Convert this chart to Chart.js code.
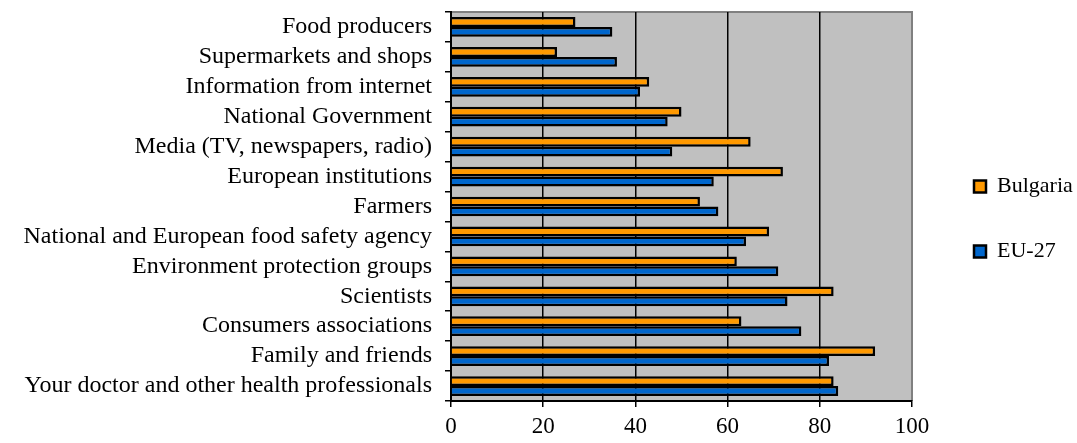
<!DOCTYPE html>
<html>
<head>
<meta charset="utf-8">
<script src="https://cdn.jsdelivr.net/npm/chart.js@4"></script>
<style>
  html, body { margin: 0; padding: 0; background: #fff; }
  #wrap { width: 1077px; height: 443px; }
</style>
</head>
<body>
<div id="wrap"><canvas id="trustChart"></canvas></div>
<script>
// Sources of food-risk information people trust
const categories = [
  'Food producers',
  'Supermarkets and shops',
  'Information from internet',
  'National Government',
  'Media (TV, newspapers, radio)',
  'European institutions',
  'Farmers',
  'National and European food safety agency',
  'Environment protection groups',
  'Scientists',
  'Consumers associations',
  'Family and friends',
  'Your doctor and other health professionals'
];
const bulgaria = [27, 23, 43, 50, 65, 72, 54, 69, 62, 83, 63, 92, 83];
const eu27 = [35, 36, 41, 47, 48, 57, 58, 64, 71, 73, 76, 82, 84];
const xTicks = [0, 20, 40, 60, 80, 100];

const font = 'Liberation Serif, Times New Roman, serif';

// grey plot area with a grey frame, legend nudged to the right
const plotArea = {
  id: 'plotArea',
  afterInit(chart) {
    const legend = chart.legend;
    const fit = legend.fit;
    legend.fit = function () {
      fit.call(this);
      this.width = 165;
    };
  },
  afterLayout(chart) {
    chart.legend.left += 19;
    chart.legend.top -= 5;
  },
  beforeDraw(chart) {
    const { ctx, chartArea: a } = chart;
    ctx.save();
    ctx.fillStyle = '#c0c0c0';
    ctx.fillRect(a.left, a.top, a.right - a.left, a.bottom - a.top);
    ctx.strokeStyle = '#808080';
    ctx.lineWidth = 2;
    ctx.beginPath();
    ctx.moveTo(a.left, a.top);
    ctx.lineTo(a.right, a.top);
    ctx.lineTo(a.right, a.bottom);
    ctx.stroke();
    ctx.restore();
  }
};

new Chart(document.getElementById('trustChart'), {
  type: 'bar',
  data: {
    labels: categories,
    datasets: [
      {
        label: 'Bulgaria',
        data: bulgaria,
        backgroundColor: '#ff9900',
        borderColor: '#000',
        borderWidth: 2.5,
        categoryPercentage: 0.66,
        barPercentage: 1.0
      },
      {
        label: 'EU-27',
        data: eu27,
        backgroundColor: '#0066cc',
        borderColor: '#000',
        borderWidth: 2.5,
        categoryPercentage: 0.66,
        barPercentage: 1.0
      }
    ]
  },
  options: {
    indexAxis: 'y',
    responsive: true,
    maintainAspectRatio: false,
    animation: false,
    layout: { padding: 0 },
    plugins: {
      legend: {
        position: 'right',
        labels: {
          boxWidth: 12,
          boxHeight: 12,
          padding: 43,
          color: '#000',
          font: { family: font, size: 22 }
        }
      },
      tooltip: { enabled: false }
    },
    scales: {
      x: {
        min: 0,
        max: 100,
        afterBuildTicks(axis) { axis.ticks = xTicks.map(v => ({ value: v })); },
        afterFit(axis) { axis.height = 42; },
        grid: {
          color: ctx => (ctx.tick && ctx.tick.value === 100 ? '#808080' : '#000'),
          tickColor: '#000',
          lineWidth: 1.5,
          tickLength: 6
        },
        border: { color: '#000', width: 2 },
        ticks: {
          color: '#000',
          padding: 6,
          font: { family: font, size: 23 }
        }
      },
      y: {
        afterFit(axis) {
          axis.width = 451;
          axis.paddingTop = 12;
          axis.paddingBottom = 0;
        },
        grid: {
          offset: true,
          drawOnChartArea: false,
          color: '#000',
          tickLength: 6,
          lineWidth: 1.5
        },
        border: { color: '#000', width: 2 },
        ticks: {
          autoSkip: false,
          color: '#000',
          padding: 13,
          font: { family: font, size: 24 }
        }
      }
    }
  },
  plugins: [plotArea]
});
</script>
</body>
</html>
